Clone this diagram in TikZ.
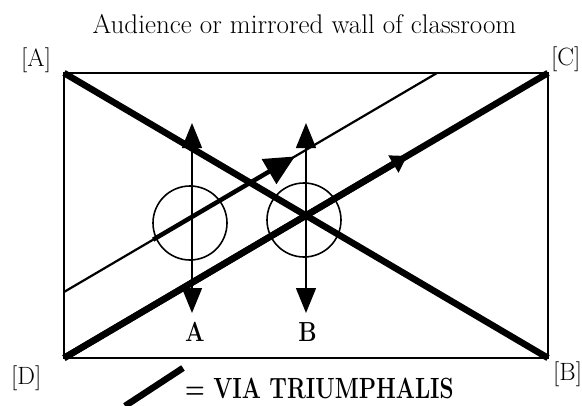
\documentclass[tikz,border=0pt]{standalone}
\usepackage{fontspec}
\usetikzlibrary{arrows.meta,calc}
\begin{document}
\begin{tikzpicture}[x=1pt,y=-1pt,
  frame/.style={line width=2pt},
  via/.style={line width=6.5pt},
  thinpath/.style={line width=2.2pt},
  vert/.style={line width=1.5pt,
    {Triangle[length=25pt,width=20pt]}-{Triangle[length=25pt,width=20pt]}},
  ring/.style={circle, draw, line width=1.6pt, minimum size=74pt, inner sep=0pt},
  corner/.style={inner sep=0pt, font=\fontsize{25}{28}\selectfont},
  poslabel/.style={inner sep=0pt, anchor=base},
  ]
\useasboundingbox (0,0) rectangle (582,405);

% corners of the room
\coordinate (cA) at (64,73);
\coordinate (cC) at (548,73);
\coordinate (cD) at (64,358);
\coordinate (cB) at (548,358);
% thin parallel path
\coordinate (p1) at (64,292);
\coordinate (p2) at (437,73);

% title and corner labels
\node[anchor=base, inner sep=0pt, font=\fontsize{27}{30}\selectfont] (title) at (304.5,33) {Audience or mirrored wall of classroom};
\node[corner, anchor=north west] (lA) at (21,48) {[A]};
\node[corner, anchor=north west] (lC) at (551,47) {[C]};
\node[corner, anchor=north west] (lD) at (11,366) {[D]};
\node[corner, anchor=north west] (lB) at (553,362) {[B]};

% room outline
\draw[frame] (cA) -- (cC) -- (cB) -- (cD) -- cycle;

% thin path with large arrowhead
\draw[thinpath] (p1) -- (p2);
\draw[line width=4.5pt, -{Triangle[length=30pt,width=28pt]}] ($(p1)!0.239!(p2)$) -- ($(p1)!0.619!(p2)$);

% via triumphalis diagonals
\draw[via] (cA) -- (cB);
\draw[via] (cD) -- (cC);
\draw[via, -{Triangle[length=16pt,width=19pt]}] (cD) -- ($(cD)!0.709!(cC)$);

% positions A and B
\node[ring] (ringA) at (190,223) {};
\node[ring] (ringB) at (304,220) {};
\coordinate (aTop) at (192,123);
\coordinate (aBot) at (192,313);
\coordinate (bTop) at (306,123);
\coordinate (bBot) at (306,313);
\draw[vert] (aTop) -- (aBot);
\draw[vert] (bTop) -- (bBot);
\node[poslabel] (posA) at (195,341) {\scalebox{1}[1.2]{\bfseries\fontsize{23}{26}\selectfont A}};
\node[poslabel] (posB) at (307.5,341) {\scalebox{1}[1.2]{\bfseries\fontsize{23}{26}\selectfont B}};

% legend
\coordinate (k1) at (125,406);
\coordinate (k2) at (183,368);
\draw[via] (k1) -- (k2);
\node[anchor=base west, inner sep=0pt] (legend) at (185,398) {\scalebox{1}[1.3]{\bfseries\fontsize{22.5}{26}\selectfont = VIA TRIUMPHALIS}};
\end{tikzpicture}
\end{document}
